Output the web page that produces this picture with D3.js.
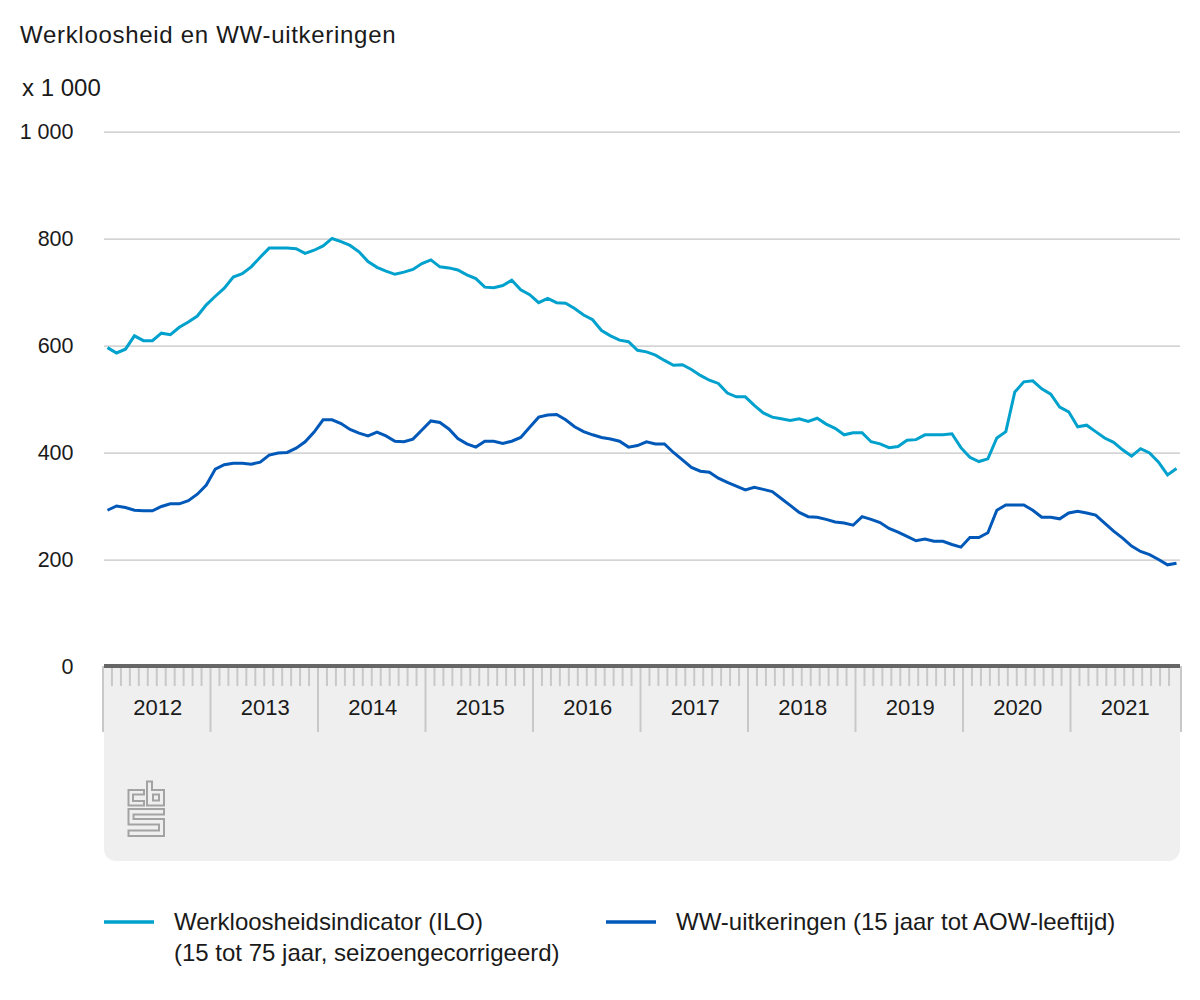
<!DOCTYPE html>
<html>
<head>
<meta charset="utf-8">
<title>Werkloosheid en WW-uitkeringen</title>
<script src="https://cdn.jsdelivr.net/npm/d3@7"></script>
<style>
  html, body { margin: 0; padding: 0; background: #fff; }
  svg { display: block; }
  text { font-family: "Liberation Sans", Arial, sans-serif; fill: #1a1a1a; }
</style>
</head>
<body>
<svg id="chart" width="1200" height="1000"></svg>
<script>
const years = [2012, 2013, 2014, 2015, 2016, 2017, 2018, 2019, 2020, 2021];
const yTicks = [0, 200, 400, 600, 800, 1000];

// one value per month, jan 2012 - dec 2021
const ilo = [
  597, 587, 594, 619, 610, 610, 624, 621, 635, 645, 656, 677,
  693, 708, 729, 735, 748, 766, 783, 783, 783, 782, 773, 779,
  787, 801, 795, 788, 776, 758, 747, 740, 734, 738, 743, 754,
  761, 748, 746, 742, 733, 726, 710, 709, 713, 723, 705, 696,
  681, 689, 681, 680, 670, 658, 649, 629, 619, 611, 608, 592,
  589, 583, 573, 564, 565, 556, 545, 536, 530, 512, 505, 505,
  489, 475, 467, 464, 461, 464, 459, 465, 454, 446, 434, 438,
  438, 421, 417, 410, 412, 424, 425, 434, 434, 434, 436, 410,
  392, 384, 389, 428, 440, 514, 533, 535, 520, 510, 486, 477,
  449, 452, 440, 428, 420, 406, 394, 408, 400, 383, 359, 371
];
const ww = [
  293, 301, 298, 293, 292, 292, 300, 305, 305, 311, 323, 340,
  370, 378, 381, 381, 379, 383, 396, 400, 401, 409, 421, 439,
  462, 462, 455, 444, 437, 432, 439, 432, 422, 421, 426, 443,
  460, 457, 445, 427, 417, 411, 422, 422, 418, 422, 429, 448,
  467, 471, 472, 462, 449, 440, 434, 429, 426, 422, 411, 414,
  421, 417, 417, 401, 387, 373, 366, 364, 353, 345, 338, 331,
  336, 332, 328, 315, 302, 289, 281, 280, 276, 271, 269, 265,
  281, 276, 270, 259, 252, 244, 236, 239, 235, 235, 229, 224,
  242, 242, 251, 293, 303, 303, 303, 293, 280, 280, 277, 288,
  291, 288, 284, 269, 254, 241, 226, 216, 210, 201, 191, 194
];
const months = d3.range(ilo.length);

const iloColor = "#00a1cd";
const wwColor = "#0058b8";

const svg = d3.select("#chart");

const x = d3.scaleBand().domain(months).range([103, 1181]);
// ticks run a little short of the lines, last tick sits apart at 1181
const xTick = d3.scaleBand().domain(months).range([103, 1178]);
const xYear = d3.scaleBand().domain(years).range([103, 1178]);
const y = d3.scaleLinear().domain([0, 1000]).range([667, 132]);

// grey panel under the axis, with round bottom corners
svg.append("path")
  .attr("d", "M104,668 H1180 V849 A12,12 0 0 1 1168,861 H116 A12,12 0 0 1 104,849 Z")
  .attr("fill", "#efefef");

// gridlines + labels
const yAxis = d3.axisLeft(y)
  .tickValues(yTicks)
  .tickSize(-1076)
  .tickFormat(d => d >= 1000 ? "1 000" : d);

const gy = svg.append("g")
  .attr("transform", "translate(104,-0.5)")
  .call(yAxis);
gy.select(".domain").remove();
gy.selectAll(".tick line").attr("stroke", "#c4c4c4").attr("stroke-width", 1.25);
gy.selectAll(".tick text")
  .attr("x", -30.5)
  .attr("font-size", 21.5)
  .attr("font-family", null)
  .attr("dy", 7);
gy.selectAll(".tick").filter(d => d === 0).select("line").remove();

// month ticks
svg.append("g").selectAll("line")
  .data(months.filter(m => m % 12 !== 0))
  .join("line")
  .attr("x1", m => xTick(m))
  .attr("x2", m => xTick(m))
  .attr("y1", 668)
  .attr("y2", 686)
  .attr("stroke", "#c8c8c8")
  .attr("stroke-width", 2);

// year ticks, one extra at the end
svg.append("g").selectAll("line")
  .data(years.concat([2022]))
  .join("line")
  .attr("x1", d => d === 2022 ? 1181 : xYear(d))
  .attr("x2", d => d === 2022 ? 1181 : xYear(d))
  .attr("y1", 666)
  .attr("y2", 732)
  .attr("stroke", "#c8c8c8")
  .attr("stroke-width", 2);

// dark baseline
svg.append("rect")
  .attr("x", 104).attr("y", 664)
  .attr("width", 1076).attr("height", 4)
  .attr("fill", "#666666");

svg.append("g").selectAll("text")
  .data(years)
  .join("text")
  .attr("x", d => xYear(d) + xYear.bandwidth() / 2 + 1)
  .attr("y", 715)
  .attr("text-anchor", "middle")
  .attr("font-size", 22)
  .text(d => d);

// lines
const line = d3.line()
  .x((d, i) => x(i) + x.bandwidth() / 2)
  .y(d => y(d));

svg.append("path").datum(ilo)
  .attr("d", line)
  .attr("fill", "none")
  .attr("stroke", iloColor)
  .attr("stroke-width", 3);

svg.append("path").datum(ww)
  .attr("d", line)
  .attr("fill", "none")
  .attr("stroke", wwColor)
  .attr("stroke-width", 3);

// cbs logo
svg.append("path")
  .attr("d",
    "M144,790 H128.5 V805.5 H144 V801 H133 V794.5 H144 Z" +
    "M147,781.5 H152 V790 H164 V805.5 H147 Z" +
    "M153,794.5 H159 V800.5 H153 Z" +
    "M128.5,809 H164 V814.5 H133.5 V819 H164 V836 H128.5 V830.5 H159 V824.5 H128.5 Z")
  .attr("fill", "none")
  .attr("stroke", "#a3a3a3")
  .attr("stroke-width", 2);

// titles
svg.append("text").attr("x", 20).attr("y", 43).attr("font-size", 24)
  .attr("letter-spacing", 0.7).text("Werkloosheid en WW-uitkeringen");
svg.append("text").attr("x", 22).attr("y", 96).attr("font-size", 24).text("x 1 000");

// legend
svg.append("line").attr("x1", 104).attr("x2", 154).attr("y1", 922).attr("y2", 922)
  .attr("stroke", iloColor).attr("stroke-width", 3.5);
svg.append("text").attr("x", 174).attr("y", 930).attr("font-size", 24).text("Werkloosheidsindicator (ILO)");
svg.append("text").attr("x", 174).attr("y", 960.5).attr("font-size", 24).text("(15 tot 75 jaar, seizoengecorrigeerd)");

svg.append("line").attr("x1", 606).attr("x2", 656).attr("y1", 922).attr("y2", 922)
  .attr("stroke", wwColor).attr("stroke-width", 3.5);
svg.append("text").attr("x", 676).attr("y", 930).attr("font-size", 24).text("WW-uitkeringen (15 jaar tot AOW-leeftijd)");
</script>
</body>
</html>
